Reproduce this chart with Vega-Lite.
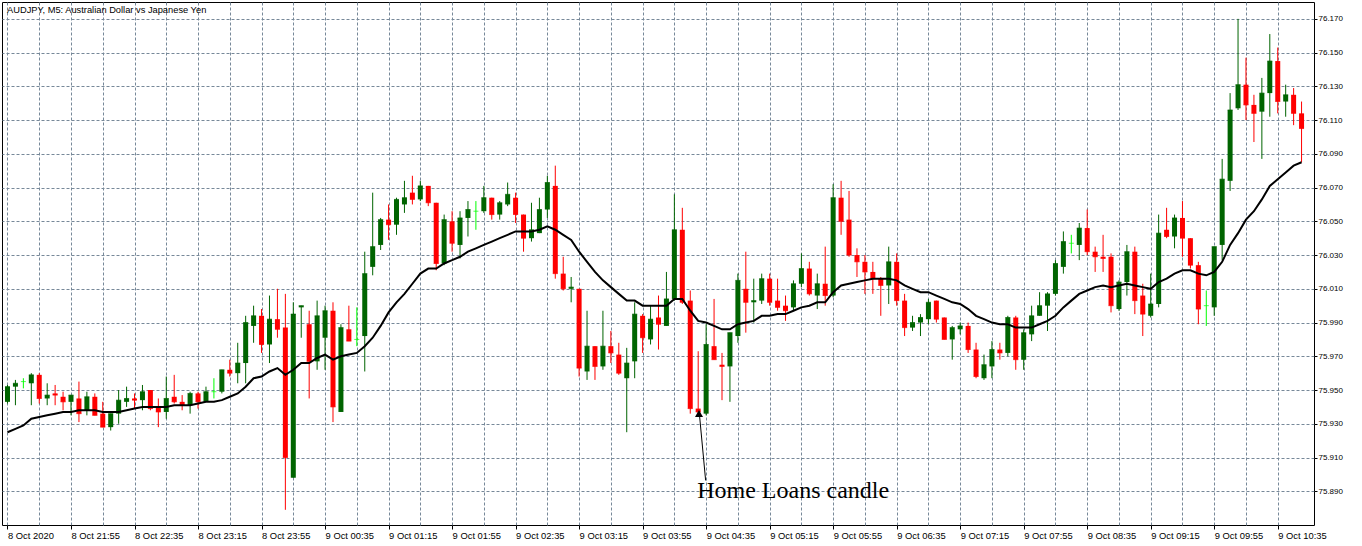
{
  "$schema": "https://vega.github.io/schema/vega-lite/v6.json",
  "width": 1312,
  "height": 523,
  "autosize": {"type": "none"},
  "padding": {"left": 2, "top": 2, "right": 48, "bottom": 21},
  "background": "white",
  "title": {
    "text": "AUDJPY, M5:  Australian Dollar vs Japanese Yen",
    "anchor": "start",
    "orient": "top",
    "frame": "group",
    "offset": -20,
    "dx": 5,
    "baseline": "alphabetic",
    "font": "Liberation Sans",
    "fontSize": 9.3,
    "fontWeight": "normal",
    "color": "#000000"
  },
  "config": {
    "view": {"stroke": "#000000", "strokeWidth": 1},
    "font": "Liberation Sans",
    "axis": {
      "domain": false,
      "grid": true,
      "gridColor": "#778899",
      "gridDash": [3, 2],
      "gridOpacity": 1,
      "gridWidth": 1,
      "tickColor": "#000000",
      "labelColor": "#000000",
      "labelFont": "Liberation Sans"
    },
    "axisY": {"tickSize": 3, "labelPadding": 1, "labelFontSize": 8, "labelAlign": "left", "labelBaseline": "middle"},
    "axisX": {"tickSize": 4, "labelPadding": 9, "labelFontSize": 9.4, "labelAlign": "left", "labelBaseline": "alphabetic", "labelFlush": false, "labelOverlap": false, "labelBound": false}
  },
  "data": {
    "values": [
      {"t": "2020-10-08T21:15:00Z", "o": 75.943, "h": 75.953, "l": 75.942, "c": 75.952, "ma": 75.925},
      {"t": "2020-10-08T21:20:00Z", "o": 75.952, "h": 75.956, "l": 75.941, "c": 75.954, "ma": 75.927},
      {"t": "2020-10-08T21:25:00Z", "o": 75.955, "h": 75.957, "l": 75.951, "c": 75.955, "ma": 75.929},
      {"t": "2020-10-08T21:30:00Z", "o": 75.954, "h": 75.960, "l": 75.941, "c": 75.959, "ma": 75.933},
      {"t": "2020-10-08T21:35:00Z", "o": 75.959, "h": 75.960, "l": 75.942, "c": 75.945, "ma": 75.934},
      {"t": "2020-10-08T21:40:00Z", "o": 75.945, "h": 75.954, "l": 75.941, "c": 75.947, "ma": 75.935},
      {"t": "2020-10-08T21:45:00Z", "o": 75.948, "h": 75.953, "l": 75.941, "c": 75.947, "ma": 75.936},
      {"t": "2020-10-08T21:50:00Z", "o": 75.946, "h": 75.949, "l": 75.938, "c": 75.943, "ma": 75.937},
      {"t": "2020-10-08T21:55:00Z", "o": 75.943, "h": 75.947, "l": 75.935, "c": 75.947, "ma": 75.937},
      {"t": "2020-10-08T22:00:00Z", "o": 75.945, "h": 75.955, "l": 75.931, "c": 75.936, "ma": 75.938},
      {"t": "2020-10-08T22:05:00Z", "o": 75.938, "h": 75.949, "l": 75.935, "c": 75.946, "ma": 75.938},
      {"t": "2020-10-08T22:10:00Z", "o": 75.946, "h": 75.948, "l": 75.935, "c": 75.935, "ma": 75.938},
      {"t": "2020-10-08T22:15:00Z", "o": 75.936, "h": 75.943, "l": 75.928, "c": 75.928, "ma": 75.937},
      {"t": "2020-10-08T22:20:00Z", "o": 75.928, "h": 75.936, "l": 75.926, "c": 75.936, "ma": 75.937},
      {"t": "2020-10-08T22:25:00Z", "o": 75.936, "h": 75.950, "l": 75.930, "c": 75.944, "ma": 75.937},
      {"t": "2020-10-08T22:30:00Z", "o": 75.943, "h": 75.952, "l": 75.940, "c": 75.945, "ma": 75.938},
      {"t": "2020-10-08T22:35:00Z", "o": 75.945, "h": 75.948, "l": 75.939, "c": 75.944, "ma": 75.939},
      {"t": "2020-10-08T22:40:00Z", "o": 75.944, "h": 75.953, "l": 75.938, "c": 75.949, "ma": 75.940},
      {"t": "2020-10-08T22:45:00Z", "o": 75.950, "h": 75.950, "l": 75.938, "c": 75.939, "ma": 75.940},
      {"t": "2020-10-08T22:50:00Z", "o": 75.940, "h": 75.945, "l": 75.928, "c": 75.937, "ma": 75.940},
      {"t": "2020-10-08T22:55:00Z", "o": 75.937, "h": 75.958, "l": 75.933, "c": 75.945, "ma": 75.940},
      {"t": "2020-10-08T23:00:00Z", "o": 75.946, "h": 75.959, "l": 75.942, "c": 75.943, "ma": 75.941},
      {"t": "2020-10-08T23:05:00Z", "o": 75.943, "h": 75.947, "l": 75.938, "c": 75.941, "ma": 75.941},
      {"t": "2020-10-08T23:10:00Z", "o": 75.941, "h": 75.949, "l": 75.936, "c": 75.948, "ma": 75.941},
      {"t": "2020-10-08T23:15:00Z", "o": 75.948, "h": 75.949, "l": 75.939, "c": 75.943, "ma": 75.942},
      {"t": "2020-10-08T23:20:00Z", "o": 75.943, "h": 75.952, "l": 75.943, "c": 75.949, "ma": 75.943},
      {"t": "2020-10-08T23:25:00Z", "o": 75.949, "h": 75.957, "l": 75.945, "c": 75.949, "ma": 75.943},
      {"t": "2020-10-08T23:30:00Z", "o": 75.949, "h": 75.962, "l": 75.948, "c": 75.962, "ma": 75.944},
      {"t": "2020-10-08T23:35:00Z", "o": 75.962, "h": 75.968, "l": 75.958, "c": 75.960, "ma": 75.946},
      {"t": "2020-10-08T23:40:00Z", "o": 75.960, "h": 75.978, "l": 75.954, "c": 75.966, "ma": 75.948},
      {"t": "2020-10-08T23:45:00Z", "o": 75.966, "h": 75.994, "l": 75.954, "c": 75.990, "ma": 75.952},
      {"t": "2020-10-08T23:50:00Z", "o": 75.988, "h": 76.000, "l": 75.978, "c": 75.994, "ma": 75.957},
      {"t": "2020-10-08T23:55:00Z", "o": 75.994, "h": 75.998, "l": 75.972, "c": 75.977, "ma": 75.958},
      {"t": "2020-10-09T00:00:00Z", "o": 75.977, "h": 76.006, "l": 75.966, "c": 75.992, "ma": 75.961},
      {"t": "2020-10-09T00:05:00Z", "o": 75.992, "h": 76.010, "l": 75.981, "c": 75.986, "ma": 75.963},
      {"t": "2020-10-09T00:10:00Z", "o": 75.987, "h": 76.007, "l": 75.879, "c": 75.910, "ma": 75.959},
      {"t": "2020-10-09T00:15:00Z", "o": 75.898, "h": 76.002, "l": 75.898, "c": 75.995, "ma": 75.962},
      {"t": "2020-10-09T00:20:00Z", "o": 75.999, "h": 76.000, "l": 75.981, "c": 76.000, "ma": 75.966},
      {"t": "2020-10-09T00:25:00Z", "o": 75.989, "h": 75.997, "l": 75.945, "c": 75.967, "ma": 75.966},
      {"t": "2020-10-09T00:30:00Z", "o": 75.967, "h": 76.003, "l": 75.962, "c": 75.994, "ma": 75.969},
      {"t": "2020-10-09T00:35:00Z", "o": 75.981, "h": 76.000, "l": 75.962, "c": 75.997, "ma": 75.971},
      {"t": "2020-10-09T00:40:00Z", "o": 75.997, "h": 76.002, "l": 75.931, "c": 75.940, "ma": 75.968},
      {"t": "2020-10-09T00:45:00Z", "o": 75.937, "h": 75.989, "l": 75.937, "c": 75.987, "ma": 75.970},
      {"t": "2020-10-09T00:50:00Z", "o": 75.986, "h": 76.000, "l": 75.979, "c": 75.979, "ma": 75.971},
      {"t": "2020-10-09T00:55:00Z", "o": 75.980, "h": 75.999, "l": 75.976, "c": 75.980, "ma": 75.972},
      {"t": "2020-10-09T01:00:00Z", "o": 75.982, "h": 76.032, "l": 75.961, "c": 76.019, "ma": 75.976},
      {"t": "2020-10-09T01:05:00Z", "o": 76.023, "h": 76.067, "l": 76.018, "c": 76.035, "ma": 75.981},
      {"t": "2020-10-09T01:10:00Z", "o": 76.036, "h": 76.052, "l": 76.033, "c": 76.051, "ma": 75.988},
      {"t": "2020-10-09T01:15:00Z", "o": 76.051, "h": 76.060, "l": 76.039, "c": 76.048, "ma": 75.996},
      {"t": "2020-10-09T01:20:00Z", "o": 76.048, "h": 76.064, "l": 76.042, "c": 76.063, "ma": 76.002},
      {"t": "2020-10-09T01:25:00Z", "o": 76.060, "h": 76.074, "l": 76.055, "c": 76.064, "ma": 76.007},
      {"t": "2020-10-09T01:30:00Z", "o": 76.067, "h": 76.077, "l": 76.060, "c": 76.063, "ma": 76.013},
      {"t": "2020-10-09T01:35:00Z", "o": 76.063, "h": 76.074, "l": 76.062, "c": 76.071, "ma": 76.019},
      {"t": "2020-10-09T01:40:00Z", "o": 76.071, "h": 76.071, "l": 76.059, "c": 76.061, "ma": 76.022},
      {"t": "2020-10-09T01:45:00Z", "o": 76.061, "h": 76.061, "l": 76.021, "c": 76.025, "ma": 76.022},
      {"t": "2020-10-09T01:50:00Z", "o": 76.025, "h": 76.054, "l": 76.024, "c": 76.051, "ma": 76.025},
      {"t": "2020-10-09T01:55:00Z", "o": 76.050, "h": 76.056, "l": 76.032, "c": 76.037, "ma": 76.027},
      {"t": "2020-10-09T02:00:00Z", "o": 76.036, "h": 76.056, "l": 76.028, "c": 76.052, "ma": 76.029},
      {"t": "2020-10-09T02:05:00Z", "o": 76.052, "h": 76.062, "l": 76.041, "c": 76.057, "ma": 76.032},
      {"t": "2020-10-09T02:10:00Z", "o": 76.056, "h": 76.062, "l": 76.045, "c": 76.056, "ma": 76.034},
      {"t": "2020-10-09T02:15:00Z", "o": 76.056, "h": 76.071, "l": 76.055, "c": 76.064, "ma": 76.036},
      {"t": "2020-10-09T02:20:00Z", "o": 76.064, "h": 76.064, "l": 76.051, "c": 76.054, "ma": 76.038},
      {"t": "2020-10-09T02:25:00Z", "o": 76.054, "h": 76.062, "l": 76.051, "c": 76.061, "ma": 76.040},
      {"t": "2020-10-09T02:30:00Z", "o": 76.060, "h": 76.073, "l": 76.059, "c": 76.066, "ma": 76.042},
      {"t": "2020-10-09T02:35:00Z", "o": 76.064, "h": 76.067, "l": 76.049, "c": 76.054, "ma": 76.044},
      {"t": "2020-10-09T02:40:00Z", "o": 76.054, "h": 76.054, "l": 76.032, "c": 76.040, "ma": 76.044},
      {"t": "2020-10-09T02:45:00Z", "o": 76.040, "h": 76.061, "l": 76.038, "c": 76.045, "ma": 76.044},
      {"t": "2020-10-09T02:50:00Z", "o": 76.043, "h": 76.064, "l": 76.043, "c": 76.057, "ma": 76.045},
      {"t": "2020-10-09T02:55:00Z", "o": 76.057, "h": 76.077, "l": 76.052, "c": 76.073, "ma": 76.047},
      {"t": "2020-10-09T03:00:00Z", "o": 76.071, "h": 76.083, "l": 76.016, "c": 76.019, "ma": 76.045},
      {"t": "2020-10-09T03:05:00Z", "o": 76.019, "h": 76.029, "l": 76.009, "c": 76.010, "ma": 76.042},
      {"t": "2020-10-09T03:10:00Z", "o": 76.010, "h": 76.017, "l": 76.002, "c": 76.011, "ma": 76.039},
      {"t": "2020-10-09T03:15:00Z", "o": 76.010, "h": 76.010, "l": 75.958, "c": 75.963, "ma": 76.032},
      {"t": "2020-10-09T03:20:00Z", "o": 75.961, "h": 75.997, "l": 75.956, "c": 75.976, "ma": 76.026},
      {"t": "2020-10-09T03:25:00Z", "o": 75.976, "h": 75.976, "l": 75.956, "c": 75.964, "ma": 76.020},
      {"t": "2020-10-09T03:30:00Z", "o": 75.964, "h": 75.997, "l": 75.962, "c": 75.976, "ma": 76.015},
      {"t": "2020-10-09T03:35:00Z", "o": 75.976, "h": 75.985, "l": 75.966, "c": 75.972, "ma": 76.011},
      {"t": "2020-10-09T03:40:00Z", "o": 75.971, "h": 75.978, "l": 75.959, "c": 75.960, "ma": 76.007},
      {"t": "2020-10-09T03:45:00Z", "o": 75.957, "h": 75.975, "l": 75.925, "c": 75.966, "ma": 76.003},
      {"t": "2020-10-09T03:50:00Z", "o": 75.967, "h": 76.002, "l": 75.957, "c": 75.995, "ma": 76.003},
      {"t": "2020-10-09T03:55:00Z", "o": 75.994, "h": 75.995, "l": 75.972, "c": 75.981, "ma": 76.000},
      {"t": "2020-10-09T04:00:00Z", "o": 75.980, "h": 76.000, "l": 75.977, "c": 75.992, "ma": 76.000},
      {"t": "2020-10-09T04:05:00Z", "o": 75.993, "h": 76.006, "l": 75.974, "c": 75.989, "ma": 76.000},
      {"t": "2020-10-09T04:10:00Z", "o": 75.988, "h": 76.020, "l": 75.988, "c": 76.004, "ma": 76.000},
      {"t": "2020-10-09T04:15:00Z", "o": 76.004, "h": 76.066, "l": 76.003, "c": 76.045, "ma": 76.004},
      {"t": "2020-10-09T04:20:00Z", "o": 76.045, "h": 76.058, "l": 76.001, "c": 76.002, "ma": 76.004},
      {"t": "2020-10-09T04:25:00Z", "o": 76.003, "h": 76.009, "l": 75.936, "c": 75.939, "ma": 75.997},
      {"t": "2020-10-09T04:30:00Z", "o": 75.939, "h": 75.973, "l": 75.936, "c": 75.937, "ma": 75.991},
      {"t": "2020-10-09T04:35:00Z", "o": 75.936, "h": 75.989, "l": 75.935, "c": 75.977, "ma": 75.990},
      {"t": "2020-10-09T04:40:00Z", "o": 75.976, "h": 76.004, "l": 75.968, "c": 75.968, "ma": 75.988},
      {"t": "2020-10-09T04:45:00Z", "o": 75.965, "h": 75.972, "l": 75.944, "c": 75.964, "ma": 75.986},
      {"t": "2020-10-09T04:50:00Z", "o": 75.964, "h": 75.984, "l": 75.943, "c": 75.984, "ma": 75.986},
      {"t": "2020-10-09T04:55:00Z", "o": 75.982, "h": 76.019, "l": 75.978, "c": 76.015, "ma": 75.989},
      {"t": "2020-10-09T05:00:00Z", "o": 76.010, "h": 76.032, "l": 75.984, "c": 76.002, "ma": 75.990},
      {"t": "2020-10-09T05:05:00Z", "o": 76.002, "h": 76.016, "l": 75.990, "c": 76.003, "ma": 75.991},
      {"t": "2020-10-09T05:10:00Z", "o": 76.003, "h": 76.019, "l": 76.001, "c": 76.016, "ma": 75.994},
      {"t": "2020-10-09T05:15:00Z", "o": 76.016, "h": 76.019, "l": 76.000, "c": 76.002, "ma": 75.994},
      {"t": "2020-10-09T05:20:00Z", "o": 76.003, "h": 76.016, "l": 75.997, "c": 75.999, "ma": 75.995},
      {"t": "2020-10-09T05:25:00Z", "o": 76.000, "h": 76.006, "l": 75.991, "c": 75.997, "ma": 75.995},
      {"t": "2020-10-09T05:30:00Z", "o": 75.999, "h": 76.015, "l": 75.997, "c": 76.013, "ma": 75.997},
      {"t": "2020-10-09T05:35:00Z", "o": 76.013, "h": 76.031, "l": 76.011, "c": 76.022, "ma": 75.999},
      {"t": "2020-10-09T05:40:00Z", "o": 76.022, "h": 76.026, "l": 76.006, "c": 76.007, "ma": 76.000},
      {"t": "2020-10-09T05:45:00Z", "o": 76.006, "h": 76.019, "l": 75.998, "c": 76.013, "ma": 76.002},
      {"t": "2020-10-09T05:50:00Z", "o": 76.013, "h": 76.035, "l": 76.000, "c": 76.006, "ma": 76.002},
      {"t": "2020-10-09T05:55:00Z", "o": 76.006, "h": 76.072, "l": 76.005, "c": 76.064, "ma": 76.008},
      {"t": "2020-10-09T06:00:00Z", "o": 76.064, "h": 76.074, "l": 76.042, "c": 76.050, "ma": 76.012},
      {"t": "2020-10-09T06:05:00Z", "o": 76.051, "h": 76.068, "l": 76.029, "c": 76.030, "ma": 76.013},
      {"t": "2020-10-09T06:10:00Z", "o": 76.030, "h": 76.034, "l": 76.017, "c": 76.026, "ma": 76.014},
      {"t": "2020-10-09T06:15:00Z", "o": 76.026, "h": 76.030, "l": 76.007, "c": 76.020, "ma": 76.015},
      {"t": "2020-10-09T06:20:00Z", "o": 76.020, "h": 76.026, "l": 76.007, "c": 76.016, "ma": 76.016},
      {"t": "2020-10-09T06:25:00Z", "o": 76.016, "h": 76.017, "l": 75.994, "c": 76.012, "ma": 76.016},
      {"t": "2020-10-09T06:30:00Z", "o": 76.012, "h": 76.035, "l": 76.001, "c": 76.026, "ma": 76.016},
      {"t": "2020-10-09T06:35:00Z", "o": 76.026, "h": 76.031, "l": 76.000, "c": 76.003, "ma": 76.015},
      {"t": "2020-10-09T06:40:00Z", "o": 76.003, "h": 76.007, "l": 75.982, "c": 75.987, "ma": 76.012},
      {"t": "2020-10-09T06:45:00Z", "o": 75.987, "h": 75.994, "l": 75.985, "c": 75.990, "ma": 76.010},
      {"t": "2020-10-09T06:50:00Z", "o": 75.990, "h": 75.995, "l": 75.982, "c": 75.993, "ma": 76.008},
      {"t": "2020-10-09T06:55:00Z", "o": 75.992, "h": 76.004, "l": 75.989, "c": 76.002, "ma": 76.008},
      {"t": "2020-10-09T07:00:00Z", "o": 76.003, "h": 76.003, "l": 75.990, "c": 75.992, "ma": 76.006},
      {"t": "2020-10-09T07:05:00Z", "o": 75.993, "h": 75.993, "l": 75.980, "c": 75.980, "ma": 76.004},
      {"t": "2020-10-09T07:10:00Z", "o": 75.980, "h": 75.988, "l": 75.968, "c": 75.987, "ma": 76.002},
      {"t": "2020-10-09T07:15:00Z", "o": 75.986, "h": 75.990, "l": 75.983, "c": 75.988, "ma": 76.001},
      {"t": "2020-10-09T07:20:00Z", "o": 75.988, "h": 75.990, "l": 75.972, "c": 75.974, "ma": 75.998},
      {"t": "2020-10-09T07:25:00Z", "o": 75.974, "h": 75.978, "l": 75.957, "c": 75.958, "ma": 75.994},
      {"t": "2020-10-09T07:30:00Z", "o": 75.957, "h": 75.971, "l": 75.956, "c": 75.965, "ma": 75.992},
      {"t": "2020-10-09T07:35:00Z", "o": 75.964, "h": 75.979, "l": 75.957, "c": 75.974, "ma": 75.990},
      {"t": "2020-10-09T07:40:00Z", "o": 75.974, "h": 75.978, "l": 75.968, "c": 75.972, "ma": 75.989},
      {"t": "2020-10-09T07:45:00Z", "o": 75.972, "h": 75.994, "l": 75.970, "c": 75.993, "ma": 75.989},
      {"t": "2020-10-09T07:50:00Z", "o": 75.993, "h": 75.994, "l": 75.962, "c": 75.968, "ma": 75.987},
      {"t": "2020-10-09T07:55:00Z", "o": 75.968, "h": 75.986, "l": 75.962, "c": 75.984, "ma": 75.987},
      {"t": "2020-10-09T08:00:00Z", "o": 75.983, "h": 76.000, "l": 75.979, "c": 75.994, "ma": 75.987},
      {"t": "2020-10-09T08:05:00Z", "o": 75.994, "h": 76.008, "l": 75.994, "c": 76.000, "ma": 75.989},
      {"t": "2020-10-09T08:10:00Z", "o": 76.000, "h": 76.008, "l": 75.985, "c": 76.007, "ma": 75.991},
      {"t": "2020-10-09T08:15:00Z", "o": 76.007, "h": 76.027, "l": 76.006, "c": 76.025, "ma": 75.994},
      {"t": "2020-10-09T08:20:00Z", "o": 76.023, "h": 76.044, "l": 76.019, "c": 76.038, "ma": 75.999},
      {"t": "2020-10-09T08:25:00Z", "o": 76.037, "h": 76.042, "l": 76.031, "c": 76.037, "ma": 76.003},
      {"t": "2020-10-09T08:30:00Z", "o": 76.036, "h": 76.049, "l": 76.027, "c": 76.046, "ma": 76.007},
      {"t": "2020-10-09T08:35:00Z", "o": 76.046, "h": 76.057, "l": 76.030, "c": 76.032, "ma": 76.009},
      {"t": "2020-10-09T08:40:00Z", "o": 76.032, "h": 76.035, "l": 76.020, "c": 76.029, "ma": 76.011},
      {"t": "2020-10-09T08:45:00Z", "o": 76.029, "h": 76.042, "l": 76.020, "c": 76.028, "ma": 76.012},
      {"t": "2020-10-09T08:50:00Z", "o": 76.029, "h": 76.031, "l": 75.996, "c": 76.000, "ma": 76.011},
      {"t": "2020-10-09T08:55:00Z", "o": 75.998, "h": 76.015, "l": 75.997, "c": 76.014, "ma": 76.012},
      {"t": "2020-10-09T09:00:00Z", "o": 76.014, "h": 76.036, "l": 76.006, "c": 76.032, "ma": 76.013},
      {"t": "2020-10-09T09:05:00Z", "o": 76.032, "h": 76.035, "l": 75.995, "c": 76.003, "ma": 76.012},
      {"t": "2020-10-09T09:10:00Z", "o": 76.006, "h": 76.013, "l": 75.982, "c": 75.995, "ma": 76.011},
      {"t": "2020-10-09T09:15:00Z", "o": 75.994, "h": 76.019, "l": 75.993, "c": 76.001, "ma": 76.010},
      {"t": "2020-10-09T09:20:00Z", "o": 76.001, "h": 76.054, "l": 75.999, "c": 76.043, "ma": 76.014},
      {"t": "2020-10-09T09:25:00Z", "o": 76.045, "h": 76.058, "l": 76.040, "c": 76.041, "ma": 76.016},
      {"t": "2020-10-09T09:30:00Z", "o": 76.041, "h": 76.054, "l": 76.034, "c": 76.052, "ma": 76.019},
      {"t": "2020-10-09T09:35:00Z", "o": 76.052, "h": 76.062, "l": 76.029, "c": 76.040, "ma": 76.021},
      {"t": "2020-10-09T09:40:00Z", "o": 76.040, "h": 76.040, "l": 76.022, "c": 76.024, "ma": 76.021},
      {"t": "2020-10-09T09:45:00Z", "o": 76.024, "h": 76.026, "l": 75.989, "c": 75.998, "ma": 76.019},
      {"t": "2020-10-09T09:50:00Z", "o": 76.000, "h": 76.009, "l": 75.988, "c": 76.000, "ma": 76.018},
      {"t": "2020-10-09T09:55:00Z", "o": 75.999, "h": 76.035, "l": 75.994, "c": 76.035, "ma": 76.020},
      {"t": "2020-10-09T10:00:00Z", "o": 76.036, "h": 76.087, "l": 76.027, "c": 76.075, "ma": 76.026},
      {"t": "2020-10-09T10:05:00Z", "o": 76.074, "h": 76.126, "l": 76.068, "c": 76.116, "ma": 76.036},
      {"t": "2020-10-09T10:10:00Z", "o": 76.117, "h": 76.170, "l": 76.116, "c": 76.131, "ma": 76.043},
      {"t": "2020-10-09T10:15:00Z", "o": 76.131, "h": 76.147, "l": 76.110, "c": 76.119, "ma": 76.051},
      {"t": "2020-10-09T10:20:00Z", "o": 76.119, "h": 76.125, "l": 76.097, "c": 76.114, "ma": 76.056},
      {"t": "2020-10-09T10:25:00Z", "o": 76.115, "h": 76.135, "l": 76.087, "c": 76.126, "ma": 76.063},
      {"t": "2020-10-09T10:30:00Z", "o": 76.126, "h": 76.161, "l": 76.112, "c": 76.145, "ma": 76.071},
      {"t": "2020-10-09T10:35:00Z", "o": 76.145, "h": 76.153, "l": 76.114, "c": 76.121, "ma": 76.075},
      {"t": "2020-10-09T10:40:00Z", "o": 76.121, "h": 76.131, "l": 76.112, "c": 76.125, "ma": 76.079},
      {"t": "2020-10-09T10:45:00Z", "o": 76.125, "h": 76.129, "l": 76.107, "c": 76.114, "ma": 76.083},
      {"t": "2020-10-09T10:50:00Z", "o": 76.114, "h": 76.121, "l": 76.085, "c": 76.105, "ma": 76.085}
    ]
  },
  "encoding": {
    "x": {
      "field": "t",
      "type": "temporal",
      "scale": {"type": "utc", "domain": [1602191681250, 1602240881250]},
      "axis": {
        "title": null,
        "values": [1602191700000, 1602192900000, 1602194100000, 1602195300000, 1602196500000, 1602197700000, 1602198900000, 1602200100000, 1602201300000, 1602202500000, 1602203700000, 1602204900000, 1602206100000, 1602207300000, 1602208500000, 1602209700000, 1602210900000, 1602212100000, 1602213300000, 1602214500000, 1602215700000, 1602216900000, 1602218100000, 1602219300000, 1602220500000, 1602221700000, 1602222900000, 1602224100000, 1602225300000, 1602226500000, 1602227700000, 1602228900000, 1602230100000, 1602231300000, 1602232500000, 1602233700000, 1602234900000, 1602236100000, 1602237300000, 1602238500000, 1602239700000],
        "labelExpr": "(datum.value - 1602191700000) % 2400000 != 0 ? '' : ((datum.value - 1602191700000) == 0 ? '8 Oct 2020' : utcFormat(datum.value, '%-d %b %H:%M'))",
        "tickOpacity": {"condition": {"test": "(datum.value - 1602191700000) % 2400000 == 0", "value": 1}, "value": 0}
      }
    }
  },
  "layer": [
    {
      "mark": {"type": "rule", "strokeWidth": 1, "clip": true},
      "encoding": {
        "y": {"field": "l", "type": "quantitative", "scale": {"domain": [75.87, 76.18], "nice": false, "zero": false}, "axis": {"orient": "right", "title": null, "format": ".3f", "values": [75.89, 75.91, 75.93, 75.95, 75.97, 75.99, 76.01, 76.03, 76.05, 76.07, 76.09, 76.11, 76.13, 76.15, 76.17]}},
        "y2": {"field": "h"},
        "color": {"condition": [{"test": "datum.c > datum.o", "value": "#006400"}, {"test": "datum.c < datum.o", "value": "#ff0000"}], "value": "#00ff00"}
      }
    },
    {
      "mark": {"type": "bar", "size": 5, "clip": true},
      "encoding": {
        "y": {"field": "o", "type": "quantitative", "scale": {"domain": [75.87, 76.18], "nice": false, "zero": false}, "axis": {"orient": "right", "title": null, "format": ".3f", "values": [75.89, 75.91, 75.93, 75.95, 75.97, 75.99, 76.01, 76.03, 76.05, 76.07, 76.09, 76.11, 76.13, 76.15, 76.17]}},
        "y2": {"field": "c"},
        "color": {"condition": [{"test": "datum.c > datum.o", "value": "#006400"}, {"test": "datum.c < datum.o", "value": "#ff0000"}], "value": "#00ff00"}
      }
    },
    {
      "mark": {"type": "tick", "orient": "horizontal", "size": 5, "thickness": 1, "clip": true},
      "encoding": {
        "y": {"field": "c", "type": "quantitative", "scale": {"domain": [75.87, 76.18], "nice": false, "zero": false}, "axis": {"orient": "right", "title": null, "format": ".3f", "values": [75.89, 75.91, 75.93, 75.95, 75.97, 75.99, 76.01, 76.03, 76.05, 76.07, 76.09, 76.11, 76.13, 76.15, 76.17]}},
        "color": {"condition": [{"test": "datum.c > datum.o", "value": "#006400"}, {"test": "datum.c < datum.o", "value": "#ff0000"}], "value": "#00ff00"}
      }
    },
    {
      "mark": {"type": "line", "color": "#000000", "strokeWidth": 2, "clip": true},
      "encoding": {
        "y": {"field": "ma", "type": "quantitative", "scale": {"domain": [75.87, 76.18], "nice": false, "zero": false}, "axis": {"orient": "right", "title": null, "format": ".3f", "values": [75.89, 75.91, 75.93, 75.95, 75.97, 75.99, 76.01, 76.03, 76.05, 76.07, 76.09, 76.11, 76.13, 76.15, 76.17]}}
      }
    },
    {
      "data": {"values": [{"t": "2020-10-09T04:30:56Z", "t2": "2020-10-09T04:34:41Z", "p": 75.934, "p2": 75.8964}]},
      "mark": {"type": "rule", "color": "#000000", "strokeWidth": 1},
      "encoding": {
        "x2": {"field": "t2"},
        "y": {"field": "p", "type": "quantitative", "scale": {"domain": [75.87, 76.18], "nice": false, "zero": false}, "axis": {"orient": "right", "title": null, "format": ".3f", "values": [75.89, 75.91, 75.93, 75.95, 75.97, 75.99, 76.01, 76.03, 76.05, 76.07, 76.09, 76.11, 76.13, 76.15, 76.17]}},
        "y2": {"field": "p2"}
      }
    },
    {
      "data": {"values": [{"t": "2020-10-09T04:30:30Z", "p": 75.9361}]},
      "mark": {"type": "point", "shape": "triangle-up", "filled": true, "size": 64, "color": "#000000", "opacity": 1},
      "encoding": {
        "y": {"field": "p", "type": "quantitative", "scale": {"domain": [75.87, 76.18], "nice": false, "zero": false}, "axis": {"orient": "right", "title": null, "format": ".3f", "values": [75.89, 75.91, 75.93, 75.95, 75.97, 75.99, 76.01, 76.03, 76.05, 76.07, 76.09, 76.11, 76.13, 76.15, 76.17]}}
      }
    },
    {
      "data": {"values": [{"t": "2020-10-09T04:30:00Z", "p": 75.886, "label": "Home Loans candle"}]},
      "mark": {"type": "text", "align": "left", "baseline": "alphabetic", "dx": -1, "font": "Liberation Serif", "fontSize": 24, "color": "#000000"},
      "encoding": {
        "y": {"field": "p", "type": "quantitative", "scale": {"domain": [75.87, 76.18], "nice": false, "zero": false}, "axis": {"orient": "right", "title": null, "format": ".3f", "values": [75.89, 75.91, 75.93, 75.95, 75.97, 75.99, 76.01, 76.03, 76.05, 76.07, 76.09, 76.11, 76.13, 76.15, 76.17]}},
        "text": {"field": "label"}
      }
    }
  ]
}
